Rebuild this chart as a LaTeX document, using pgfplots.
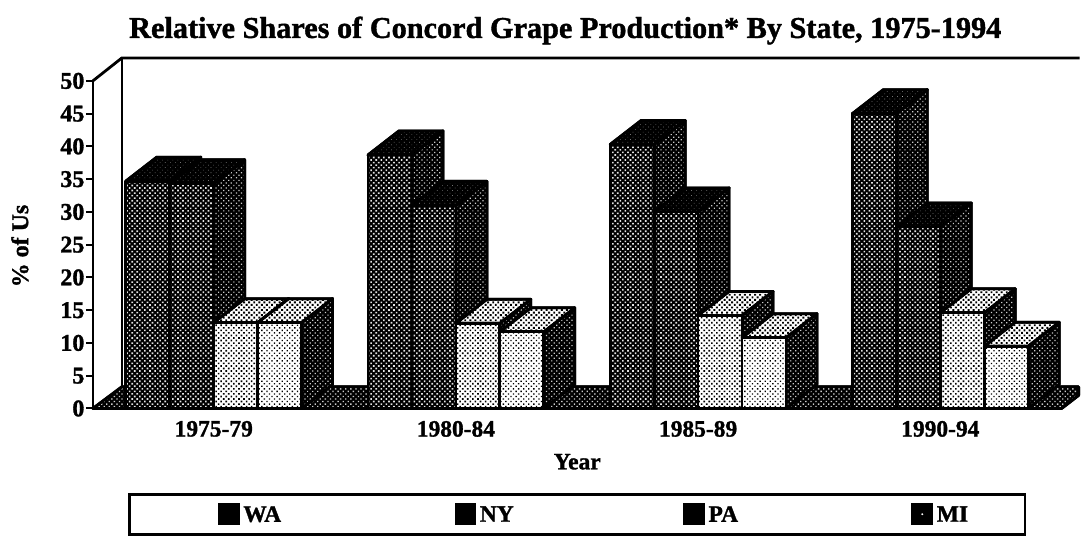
\documentclass[border=0pt]{standalone}
\usepackage{fontspec}
\setmainfont[BoldFeatures={FakeBold=1.3}]{Liberation Serif}
\usepackage{pgfplots}
\pgfplotsset{compat=1.18}
\usetikzlibrary{patterns.meta}
\pgfplotsset{
 pat/.style n args={3}{forget plot,fill=#1,draw=black,line width=2.8pt,line join=round,
   postaction={pattern={Dots[distance=3.6pt,radius=#2,angle=45]},pattern color=#3}},
 frontD/.style={pat={black}{1.15pt}{white!90!black}},
 frontL/.style={pat={white}{0.95pt}{black}},
 frontM/.style={pat={white}{1.15pt}{black}},
 sideD/.style={pat={black}{0.85pt}{white!80!black}},
 topD/.style={pat={black}{0.4pt}{white!70!black}},
 topL/.style={pat={white}{1.35pt}{black}},
 floorS/.style={pat={black}{0.95pt}{white!80!black}},
}
\newcommand\threebar[4]{% left edge, value, front style, top style
 \pgfmathsetmacro\xa{#1}\pgfmathsetmacro\xb{#1+44}
 \pgfmathsetmacro\xc{#1+44+31}\pgfmathsetmacro\xd{#1+31}
 \pgfmathsetmacro\yb{#2+3.66}
 \edef\temp{\noexpand\addplot[sideD] coordinates {(\xb,0) (\xc,3.66) (\xc,\yb) (\xb,#2)} -- cycle;
  \noexpand\addplot[#4] coordinates {(\xa,#2) (\xb,#2) (\xc,\yb) (\xd,\yb)} -- cycle;
  \noexpand\addplot[#3] coordinates {(\xa,0) (\xb,0) (\xb,#2) (\xa,#2)} -- cycle;}\temp}
\newcommand\grp[5]{% group left, WA, NY, PA, MI
 \threebar{#1+33}{#2}{frontD}{topD}
 \threebar{#1+77}{#3}{frontD}{topD}
 \threebar{#1+121}{#4}{frontM}{topL}
 \threebar{#1+165}{#5}{frontL}{topL}}
\begin{document}
\begin{tikzpicture}[x=1pt,y=1pt]
\path (0,0) rectangle (1081,537);
\begin{axis}[at={(93pt,128pt)},anchor=origin,scale only axis,width=970pt,height=328pt,
 xmin=93,xmax=1063,ymin=0,ymax=50,clip=false,
 axis x line=bottom,axis y line=left,
 axis line style={line width=2.6pt,-},
 tick style={black,line width=2pt},
 tick align=outside,major tick length=7pt,
 ytick={0,5,...,50},
 yticklabel style={font=\fontsize{24}{24}\bfseries,xshift=2pt},
 /pgf/number format/assume math mode=true,
 xtick={214,456.5,699,941.5},
 xticklabels={1975-79,1980-84,1985-89,1990-94},
 xticklabel style={font=\fontsize{23.5}{23.5}\bfseries,yshift=-2pt},
 extra x ticks={93,335.5,578,820.5,1063},extra x tick labels={},
 xtick style={draw=none},
 extra x tick style={tick style={black,line width=2pt},major tick length=7pt},
 xlabel={Year},xlabel style={font=\fontsize{23.5}{23.5}\bfseries,at={(axis cs:578,0)},anchor=north,yshift=-42pt},
 ylabel={\% of Us},ylabel style={font=\fontsize{24}{24}\bfseries,at={(axis cs:93,24.8)},anchor=south,yshift=61pt},
 title={Relative Shares of Concord Grape Production* By State, 1975-1994},
 title style={font=\fontsize{30.3}{30.3}\bfseries,at={(axis cs:566,50)},anchor=base,yshift=37pt},
 legend columns=4,
 legend image code/.code={\path[#1] (0pt,-9pt) rectangle (19pt,10pt);\path[draw=none,fill=none] (-35pt,0pt) -- (22pt,0pt);},
 legend style={at={(axis cs:578,-16.16)},anchor=center,draw=black,line width=2.8pt,
   font=\fontsize{23.5}{23.5}\bfseries,
   inner xsep=55pt,inner ysep=9pt,
   /tikz/column 2/.style={column sep=138pt},
   /tikz/column 4/.style={column sep=134pt},
   /tikz/column 6/.style={column sep=138pt}},
]
\addlegendimage{fill=black,draw=black}\addlegendentry{WA}
\addlegendimage{fill=black,draw=black}\addlegendentry{NY}
\addlegendimage{fill=black,draw=black}\addlegendentry{PA}
\addlegendimage{legend image code/.code={\path[fill=black] (0pt,-9pt) rectangle (19pt,10pt);\path[fill=white] (9.5pt,0.5pt) circle (2.6pt);\path[draw=none,fill=none] (-35pt,0pt) -- (22pt,0pt);}}\addlegendentry{MI}
% back wall
\addplot[black,line width=2.8pt,forget plot] coordinates {(93,50) (122,53.5) (1081,53.5)};
\addplot[black,line width=1.6pt,forget plot] coordinates {(122,53.5) (122,3.3)};
% floor
\addplot[floorS] coordinates {(93,0) (122,3.3) (1080,3.3) (1080,2) (1063,0)} -- cycle;
\grp{93}{34.7}{34.3}{13.1}{13.1}
\grp{335.5}{38.7}{31}{13}{11.7}
\grp{578}{40.3}{30}{14.2}{10.8}
\grp{820.5}{45}{27.7}{14.6}{9.5}
\end{axis}
\end{tikzpicture}
\end{document}
